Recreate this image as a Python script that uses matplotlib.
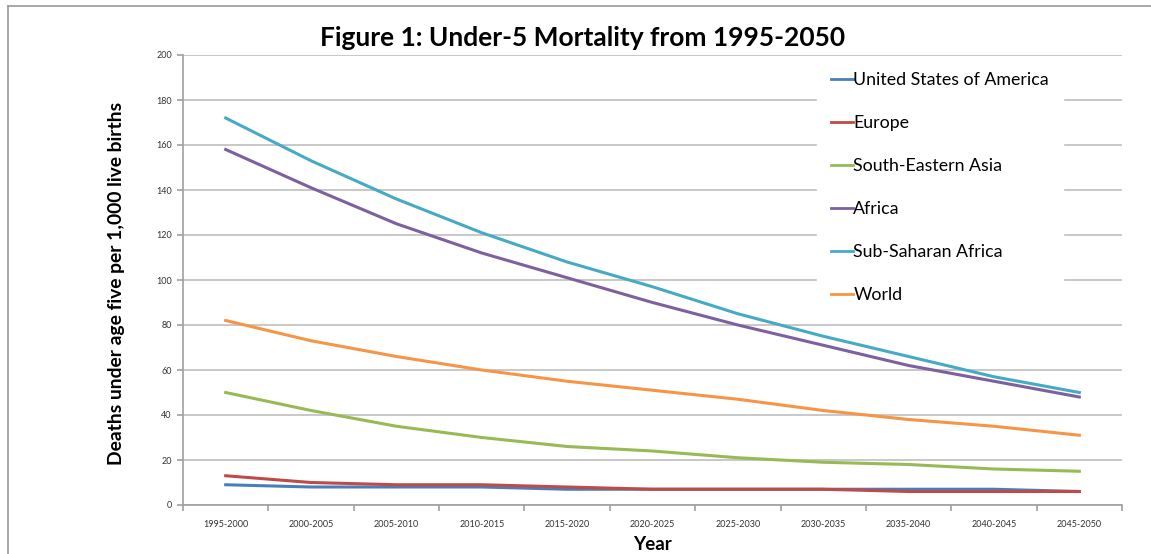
from matplotlib import pyplot as plt
from matplotlib.lines import Line2D
import numpy as np

# data
periods = ['1995-2000', '2000-2005', '2005-2010', '2010-2015', '2015-2020', '2020-2025',
           '2025-2030', '2030-2035', '2035-2040', '2040-2045', '2045-2050']
usa = [9, 8, 8, 8, 7, 7, 7, 7, 7, 7, 6]
europe = [13, 10, 9, 9, 8, 7, 7, 7, 6, 6, 6]
se_asia = [50, 42, 35, 30, 26, 24, 21, 19, 18, 16, 15]
africa = [158, 141, 125, 112, 101, 90, 80, 71, 62, 55, 48]
ssa = [172, 153, 136, 121, 108, 97, 85, 75, 66, 57, 50]
world = [82, 73, 66, 60, 55, 51, 47, 42, 38, 35, 31]

plt.rcParams['font.family'] = ['Lato', 'DejaVu Sans']

W, H = 1151, 554
fig = plt.figure(figsize=(W / 100, H / 100), dpi=100)
fig.patch.set_facecolor('white')

# outer frame (left and top edges)
fig.add_artist(Line2D([8 / W, 8 / W], [0, 1 - 6 / H], color='#9a9a9a', linewidth=1.2))
fig.add_artist(Line2D([8 / W, 1], [1 - 6 / H, 1 - 6 / H], color='#9a9a9a', linewidth=1.2))

ax = fig.add_axes([183 / W, 1 - 505 / H, (1122 - 183) / W, 450 / H])
x = np.arange(len(periods))

ax.plot(x, usa, color='#4a7ebb', linewidth=2.2, label='United States of America', zorder=3)
ax.plot(x, europe, color='#be4b48', linewidth=2.2, label='Europe', zorder=3)
ax.plot(x, se_asia, color='#98b954', linewidth=2.2, label='South-Eastern Asia', zorder=3)
ax.plot(x, africa, color='#7d60a0', linewidth=2.2, label='Africa', zorder=3)
ax.plot(x, ssa, color='#46aac5', linewidth=2.2, label='Sub-Saharan Africa', zorder=3)
ax.plot(x, world, color='#f69545', linewidth=2.2, label='World', zorder=3)

ax.set_xlim(-0.5, len(periods) - 0.5)
ax.set_ylim(0, 200)
ax.set_yticks(range(0, 201, 20))
ax.yaxis.grid(True, color='#c4c4c4', linewidth=1.3)
ax.set_axisbelow(True)

ax.set_xticks(x)
ax.set_xticklabels(periods, fontsize=6.5, color='#333333')
ax.set_xticks(np.arange(-0.5, len(periods)), minor=True)
ax.tick_params(axis='x', which='major', length=0, pad=11)
ax.tick_params(axis='x', which='minor', length=4, color='#a0a0a0', width=1.2)
ax.tick_params(axis='y', length=4, color='#a0a0a0', width=1.2, labelsize=6.5,
               labelcolor='#333333', pad=4)

for side in ['top', 'right']:
    ax.spines[side].set_visible(False)
ax.spines['left'].set_color('#a0a0a0')
ax.spines['bottom'].set_color('#a0a0a0')
ax.spines['left'].set_linewidth(1.2)
ax.spines['bottom'].set_linewidth(1.2)

# labels and title
fig.text(583 / W, 1 - 38 / H, 'Figure 1: Under-5 Mortality from 1995-2050', ha='center',
         va='center', fontsize=19, fontweight='bold')
fig.text(117 / W, 1 - 283 / H, 'Deaths under age five per 1,000 live births', rotation=90,
         ha='center', va='center', fontsize=13.9, fontweight='bold')
fig.text(652 / W, 1 - 545 / H, 'Year', ha='center', va='center', fontsize=13.5, fontweight='bold')

leg = ax.legend(loc='upper left', bbox_to_anchor=(817 / W, 1 - 58 / H),
                bbox_transform=fig.transFigure, fontsize=12.8, frameon=True, fancybox=False,
                facecolor='white', edgecolor='white', framealpha=1, handlelength=1.2,
                handletextpad=0.05, labelspacing=1.52, borderpad=0.8, borderaxespad=0)
for line in leg.get_lines():
    line.set_linewidth(2)

fig.savefig('out.png', dpi=100)
